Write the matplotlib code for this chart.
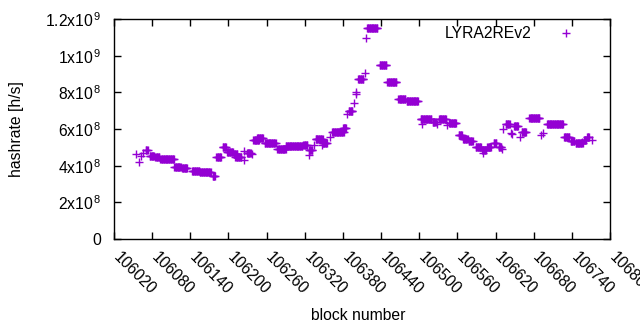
import numpy as np
import matplotlib
matplotlib.use("Agg")
import matplotlib.pyplot as plt
from matplotlib.transforms import ScaledTranslation

plt.rcParams['font.family'] = ['Liberation Sans', 'DejaVu Sans']
plt.rcParams['mathtext.fontset'] = 'custom'
plt.rcParams['mathtext.rm'] = 'Liberation Sans'
plt.rcParams['mathtext.it'] = 'Liberation Sans'

# runs of constant hashrate: (first block, last block, hashrate)
seg_start = [106070, 106076, 106085, 106093, 106116, 106127, 106143, 106155, 106175,
             106181, 106191, 106198, 106208, 106211, 106229, 106239, 106245, 106257,
             106277, 106290, 106318, 106327, 106337, 106348, 106363, 106380, 106389,
             106404, 106418, 106438, 106450, 106467, 106480, 106502, 106521, 106531,
             106547, 106562, 106569, 106578, 106589, 106599, 106607, 106617, 106625,
             106636, 106649, 106661, 106673, 106701, 106728, 106738, 106746, 106759,
             106764]
seg_end = [106073, 106083, 106091, 106114, 106125, 106135, 106154, 106172, 106179,
           106188, 106196, 106207, 106214, 106220, 106235, 106248, 106254, 106274,
           106290, 106316, 106324, 106332, 106348, 106355, 106381, 106385, 106395,
           106412, 106434, 106448, 106464, 106478, 106498, 106519, 106526, 106542,
           106558, 106567, 106576, 106584, 106597, 106605, 106613, 106621, 106629,
           106642, 106655, 106668, 106689, 106726, 106736, 106744, 106757, 106762,
           106767]
seg_value = [4.85e8, 4.55e8, 4.45e8, 4.35e8, 3.94e8, 3.90e8, 3.71e8, 3.65e8, 3.45e8,
             4.49e8, 5.02e8, 4.73e8, 4.62e8, 4.49e8, 4.67e8, 5.40e8, 5.50e8, 5.25e8,
             4.89e8, 5.07e8, 5.11e8, 4.85e8, 5.44e8, 5.25e8, 5.85e8, 6.07e8, 7.00e8,
             8.71e8, 1.149e9, 9.47e8, 8.55e8, 7.62e8, 7.53e8, 6.55e8, 6.40e8, 6.55e8,
             6.31e8, 5.67e8, 5.45e8, 5.36e8, 5.00e8, 4.85e8, 5.04e8, 5.22e8, 5.04e8,
             6.27e8, 6.18e8, 5.84e8, 6.58e8, 6.25e8, 5.55e8, 5.35e8, 5.22e8, 5.40e8,
             5.55e8]

# isolated blocks
pt_block = [106055, 106059, 106062, 106065, 106115, 106224, 106225, 106237, 106326,
            106334, 106347, 106359, 106387, 106398, 106400, 106401, 106415, 106416,
            106505, 106528, 106544, 106600, 106630, 106632, 106645, 106646, 106658,
            106692, 106695, 106756, 106771]
pt_value = [4.62e8, 4.22e8, 4.54e8, 4.71e8, 3.94e8, 4.30e8, 4.82e8, 4.62e8, 4.60e8,
            5.11e8, 5.11e8, 5.58e8, 6.84e8, 7.43e8, 7.89e8, 8.00e8, 9.04e8, 1.095e9,
            6.29e8, 6.29e8, 6.22e8, 4.67e8, 4.90e8, 5.98e8, 5.80e8, 5.72e8, 5.58e8,
            5.67e8, 5.80e8, 5.30e8, 5.40e8]

x_ticks = list(range(106020, 106801, 60))
y_ticks = [0, 2e8, 4e8, 6e8, 8e8, 1e9, 1.2e9]
y_ticklabels = ['0', r'2x10$^{\,8}$', r'4x10$^{\,8}$', r'6x10$^{\,8}$',
                r'8x10$^{\,8}$', r'1x10$^{\,9}$', r'1.2x10$^{\,9}$']

blocks = []
values = []
for s, e, v in zip(seg_start, seg_end, seg_value):
    b = np.arange(s, e + 1)
    blocks.extend(b)
    values.extend([v] * len(b))
blocks.extend(pt_block)
values.extend(pt_value)
order = np.argsort(blocks)
blocks = np.array(blocks)[order]
values = np.array(values)[order]

FS = 11.3
fig = plt.figure(figsize=(6.4, 3.3), dpi=100)
ax = fig.add_axes([114 / 640, 91 / 330, 496 / 640, 220 / 330])
ax.plot(blocks, values, linestyle='none', marker='+', markersize=5.5,
        markeredgewidth=1.0, color='#9400D3', label='LYRA2REv2')

ax.set_xlim(106020, 106800)
ax.set_ylim(0, 1.2e9)
ax.set_xticks(x_ticks)
ax.set_xticklabels([str(t) for t in x_ticks], rotation=-45, ha='left', va='top',
                   rotation_mode='anchor', fontsize=FS)
ax.set_yticks(y_ticks)
ax.set_yticklabels(y_ticklabels, fontsize=FS)
ax.tick_params(direction='in', length=5, width=1, top=True, right=True,
               colors='black')
ax.tick_params(axis='y', pad=9)
ax.tick_params(axis='x', pad=8)
shift = ScaledTranslation(7 / 100, 1 / 100, fig.dpi_scale_trans)
for lab in ax.get_xticklabels():
    lab.set_transform(lab.get_transform() + shift)
for sp in ax.spines.values():
    sp.set_linewidth(1)

ax.set_xlabel('block number', fontsize=FS)
ax.xaxis.label.set_va('center')
ax.xaxis.set_label_coords((358 - 114) / 496, (239 - 316) / 220)
ax.set_ylabel('hashrate [h/s]', fontsize=FS)
ax.yaxis.label.set_va('center')
ax.yaxis.set_label_coords((17 - 114) / 496, (239 - 129) / 220)

ax.legend(loc='upper right', frameon=False, markerfirst=False, fontsize=FS,
          handlelength=2.0, handletextpad=1.2, borderaxespad=0.0, borderpad=0.0,
          bbox_to_anchor=((582 - 114) / 496, (239 - 26) / 220))

fig.savefig('out.png', dpi=100)
